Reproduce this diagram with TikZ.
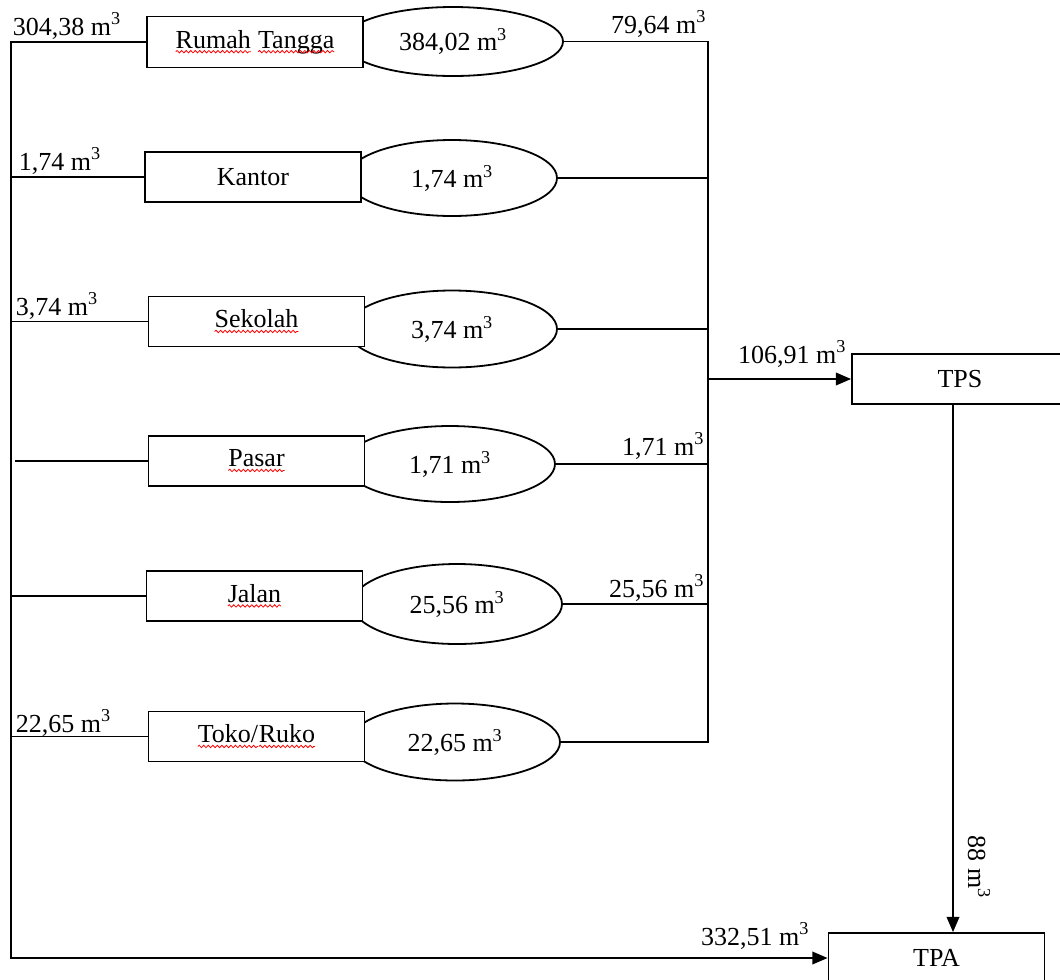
\documentclass[tikz,border=0pt]{standalone}
\usepackage{fontspec}
\setmainfont{Liberation Serif}
\usetikzlibrary{shapes.geometric,arrows.meta,decorations.pathmorphing}
\newcommand\sq[1]{\tikz[baseline=(w.base)]{\node[inner sep=0pt,outer sep=0pt,draw=none,fill=none,
    minimum width=0pt,minimum height=0pt,anchor=center,shape=rectangle] (w) {#1};
  \draw[red, line width=0.6pt, decorate, decoration={snake, amplitude=0.9pt, segment length=3.4pt}]
    ([yshift=-2.6pt]w.base west) -- ([yshift=-2.6pt]w.base east);}}
\newcommand\mt{m\textsuperscript{3}}
\begin{document}
\begin{tikzpicture}[x=0.75pt,y=-0.75pt, line width=1.35pt,
  font=\fontsize{19.5}{23}\selectfont,
  boxnode/.style={draw, fill=white, rectangle, minimum width=162pt, minimum height=37.5pt, inner sep=0pt},
  ellnode/.style={draw, ellipse, inner sep=0pt, minimum width=157.5pt},
  lbl/.style={inner sep=0pt},
  arr/.style={-{Triangle[length=11.5pt,width=9.5pt]}}]
\useasboundingbox (0,0) rectangle (1060,979);
\clip (0,0) rectangle (1060,979);

% ellipses (drawn first, boxes cover their left part)
\node[ellnode, minimum width=165pt, minimum height=51.75pt] (e1) at (453,41.5) {384,02 \mt};
\node[ellnode, minimum height=57pt] (e2) at (452,178) {1,74 \mt};
\node[ellnode, minimum height=57.75pt] (e3) at (452,329) {3,74 \mt};
\node[ellnode, minimum height=57pt] (e4) at (450,464) {1,71 \mt};
\node[ellnode, minimum height=60pt] (e5) at (457,604) {25,56 \mt};
\node[ellnode, minimum height=57.75pt] (e6) at (455,742) {22,65 \mt};

% boxes
\node[boxnode, minimum height=38.25pt] (rt) at (255,42) {\sq{Rumah} \sq{Tangga}};
\node[boxnode] (kt) at (253,177) {Kantor};
\node[boxnode] (sk) at (256.5,321.5) {\sq{Sekolah}};
\node[boxnode] (ps) at (256.5,461) {\sq{Pasar}};
\node[boxnode] (jl) at (254.5,596) {\sq{Jalan}};
\node[boxnode] (tk) at (256.5,736.5) {\sq{Toko/}\sq{Ruko}};
\node[boxnode] (tps) at (960,379) {TPS};
\node[boxnode] (tpa) at (936.5,958) {TPA};

% bus coordinates
\coordinate (lx) at (11,0);
\coordinate (lxp) at (15,0);
\coordinate (rx) at (708,0);
\coordinate (td) at (953,0);

% left bus
\draw[arr] (rt.west) -- (rt.west -| lx) -- (lx |- tpa.west) -- (tpa.west);
\draw (kt.west) -- (kt.west -| lx);
\draw (sk.west) -- (sk.west -| lx);
\draw (ps.west) -- (ps.west -| lxp);
\draw (jl.west) -- (jl.west -| lx);
\draw (tk.west) -- (tk.west -| lx);

% right bus
\draw (e1.east) -- (e1.east -| rx) -- (e6.east -| rx) -- (e6.east);
\draw (e2.east) -- (e2.east -| rx);
\draw (e3.east) -- (e3.east -| rx);
\draw (e4.east) -- (e4.east -| rx);
\draw (e5.east) -- (e5.east -| rx);
\draw[arr] (tps.west -| rx) -- (tps.west);
\draw[arr] (tps.south -| td) -- (tpa.north -| td);

% labels
\node[lbl, anchor=base west] (l1) at (12,35) {304,38 \mt};
\node[lbl, anchor=base west] (l2) at (18,170) {1,74 \mt};
\node[lbl, anchor=base west] (l3) at (15,315) {3,74 \mt};
\node[lbl, anchor=base west] (l6) at (15,732) {22,65 \mt};
\node[lbl, anchor=base east] (r1) at (707,33) {79,64 \mt};
\node[lbl, anchor=base east] (r4) at (705,455) {1,71 \mt};
\node[lbl, anchor=base east] (r5) at (705,597) {25,56 \mt};
\node[lbl, anchor=base east] (ltps) at (847,363) {106,91 \mt};
\node[lbl, anchor=base east] (ltpa) at (810,945) {332,51 \mt};
\node[lbl, rotate=-90] (l88) at (979,867) {88 \mt};
\end{tikzpicture}
\end{document}
